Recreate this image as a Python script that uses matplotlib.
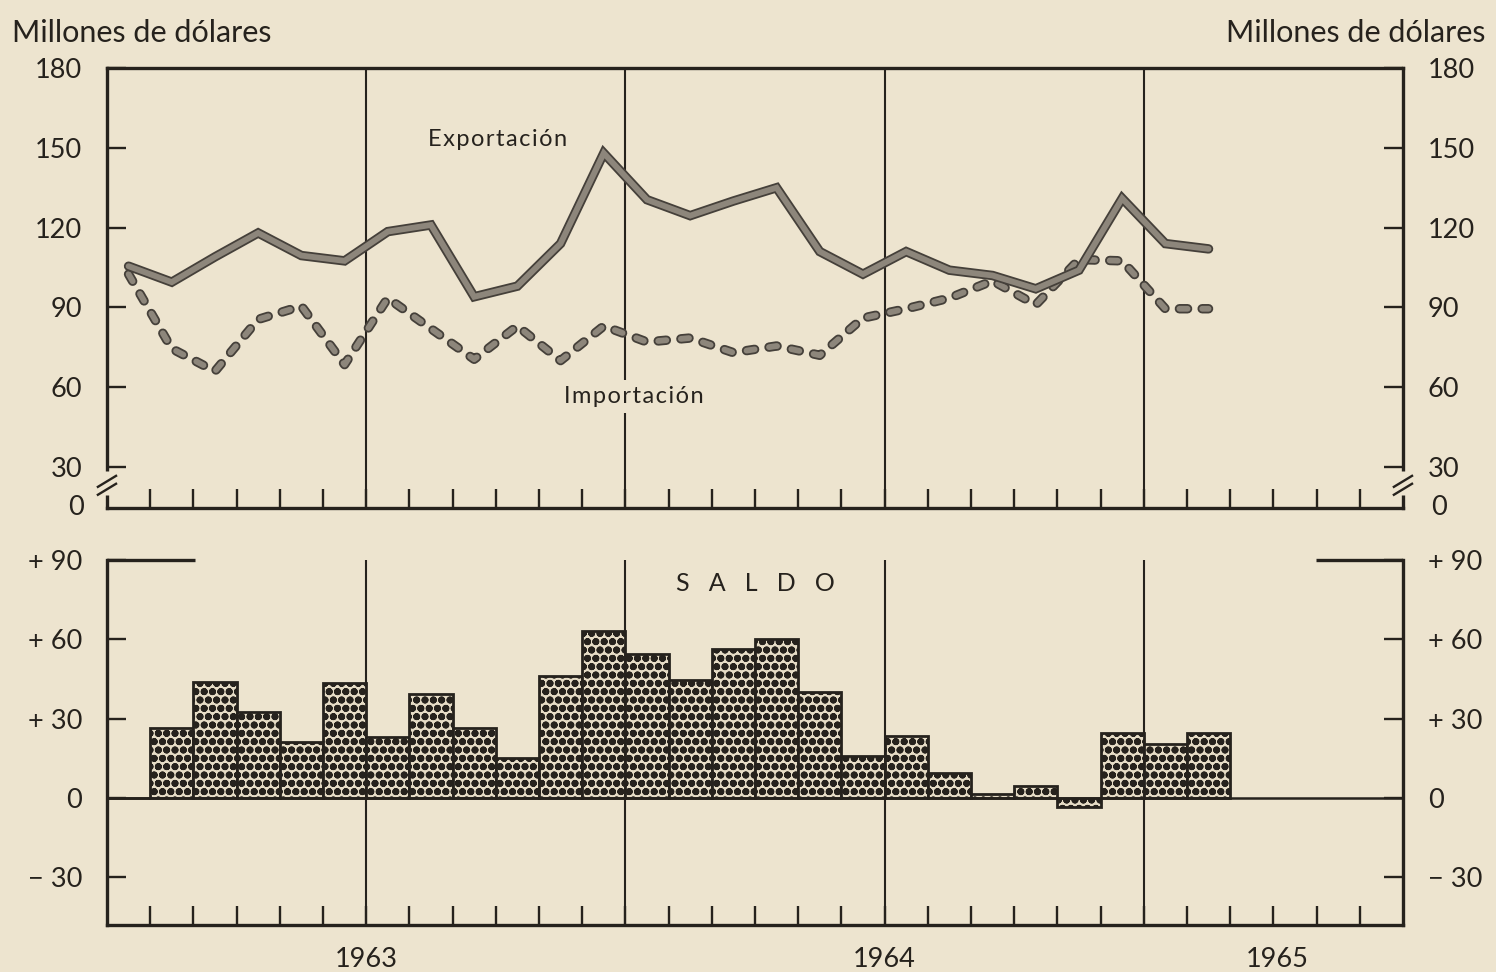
import matplotlib
matplotlib.use("Agg")
import matplotlib.pyplot as plt
import matplotlib.patheffects as pe
import numpy as np

# Monthly trade data, Jan 1963 - Feb 1965 (millones de dólares)
months = ["1963-01", "1963-02", "1963-03", "1963-04", "1963-05", "1963-06",
          "1963-07", "1963-08", "1963-09", "1963-10", "1963-11", "1963-12",
          "1964-01", "1964-02", "1964-03", "1964-04", "1964-05", "1964-06",
          "1964-07", "1964-08", "1964-09", "1964-10", "1964-11", "1964-12",
          "1965-01", "1965-02"]
exportacion = [105.5, 99.5, 109, 118, 109.5, 107.5, 118.5, 121, 94, 98, 114, 148,
               130.5, 124.5, 130, 135, 111, 102.5, 111, 104, 102, 97, 104, 131,
               114, 112]
importacion = [102.5, 74.5, 66, 85.5, 90.5, 68.5, 93.5, 82, 70.5, 83, 70, 83,
               77, 78.5, 73, 75.5, 72, 86, 89.5, 93.5, 100, 91, 108, 107.5,
               89.5, 89.5]
saldo = [0, 26.5, 44, 32.5, 21, 43.5, 23, 39.5, 26.5, 15, 46, 63,
         54.5, 44.5, 56.5, 60, 40, 16, 23.5, 9.5, 1.5, 4.5, -3.5, 24.5,
         20.5, 24.5]

top_ticks = [30, 60, 90, 120, 150]
top_labels = ["30", "60", "90", "120", "150"]
bot_ticks = [-30, 0, 30, 60, 90]
bot_labels = ["\u2212 30", "0", "+ 30", "+ 60", "+ 90"]
years = ["1963", "1964", "1965"]
year_pos = [6, 18, 27.1]

BG = "#ede4cf"
INK = "#26221d"
BAND = "#8d867b"
EDGE = "#45403a"
FONT = "Lato"

plt.rcParams["font.family"] = [FONT, "DejaVu Sans"]
plt.rcParams["hatch.linewidth"] = 2.6

fig = plt.figure(figsize=(14.96, 9.72), dpi=100, facecolor=BG)
ax_t = fig.add_axes([0.0715, 0.4774, 0.8663, 0.4526])
ax_b = fig.add_axes([0.0715, 0.0484, 0.8663, 0.3755])

x = np.arange(len(months)) + 0.5
n_months = 30
half_years = [6, 12, 18, 24]
TICK_FS = 19.5


def style(ax):
    ax.set_facecolor(BG)
    ax.set_xlim(0, n_months)
    ax.set_xticks(np.arange(1, n_months))
    ax.set_xticklabels([])
    ax.tick_params(axis="x", direction="in", length=13.5, width=1.7, color=INK)
    ax.tick_params(axis="y", direction="in", length=14, width=1.7, color=INK,
                   left=True, right=True, labelleft=True, labelright=True,
                   labelsize=TICK_FS, labelcolor=INK, pad=18)
    for s in ax.spines.values():
        s.set_color(INK)
        s.set_linewidth(2.4)


# ---- top panel: exportación / importación ----
style(ax_t)
ax_t.set_ylim(14.6, 180)
ax_t.set_yticks(top_ticks + [180])
ax_t.set_yticklabels(top_labels + ["180"])
ax_t.text(-0.018, 0, "0", transform=ax_t.transAxes, ha="right", va="center",
          fontsize=TICK_FS, color=INK)
ax_t.text(1.022, 0, "0", transform=ax_t.transAxes, ha="left", va="center",
          fontsize=TICK_FS, color=INK)

for hx in half_years:
    ax_t.axvline(hx, color=INK, lw=1.5, zorder=1)

stroke = [pe.Stroke(linewidth=6.8, foreground=EDGE, capstyle="round"), pe.Normal()]
ax_t.plot(x, importacion, color=BAND, lw=4.2, dashes=(1.4, 2.5),
          dash_capstyle="round", path_effects=stroke, zorder=3)
ax_t.plot(x, exportacion, color=BAND, lw=4.2, solid_capstyle="round",
          solid_joinstyle="miter", path_effects=stroke, zorder=4)

ax_t.text(9.05, 153, "E x p o r t a c i ó n".replace(" ", "\u200a"),
          ha="center", va="center", fontsize=17, color=INK, zorder=5)
ax_t.text(12.2, 56.6, "I m p o r t a c i ó n".replace(" ", "\u200a"),
          ha="center", va="center", fontsize=17, color=INK, zorder=5,
          bbox=dict(boxstyle="square,pad=0.25", fc=BG, ec="none"))

# axis break marks at the bottom corners
for xb in (0.0, 1.0):
    ax_t.plot([xb, xb], [0.03, 0.085], transform=ax_t.transAxes,
              color=BG, lw=5, clip_on=False, zorder=6, solid_capstyle="butt")
    for dy in (0.0, 0.018):
        ax_t.plot([xb - 0.007, xb + 0.007], [0.03 + dy, 0.055 + dy],
                  transform=ax_t.transAxes, color=INK, lw=1.7, clip_on=False, zorder=7)

# ---- bottom panel: saldo ----
style(ax_b)
ax_b.set_ylim(-48, 90)
ax_b.set_yticks(bot_ticks)
ax_b.set_yticklabels(bot_labels)
ax_b.spines["top"].set_visible(False)
ax_b.plot([0, 0.068], [1, 1], transform=ax_b.transAxes, color=INK, lw=2.4,
          clip_on=False, solid_capstyle="butt")
ax_b.plot([0.933, 1], [1, 1], transform=ax_b.transAxes, color=INK, lw=2.4,
          clip_on=False, solid_capstyle="butt")

for hx in half_years:
    ax_b.axvline(hx, color=INK, lw=1.5, zorder=1)
ax_b.axhline(0, color=INK, lw=1.8, zorder=4)

ax_b.bar(np.arange(len(months)), saldo, width=1, align="edge", color="#e6dcc6",
         edgecolor=INK, hatch="oo", lw=2.0, zorder=3)

ax_b.text(15, 81, "S   A   L   D   O", ha="center", va="center", fontsize=18, color=INK)

for yr, yp in zip(years, year_pos):
    ax_b.text(yp, -0.095, yr, transform=ax_b.get_xaxis_transform(), ha="center",
              va="center", fontsize=TICK_FS, color=INK)

fig.text(0.008, 0.966, "Millones de dólares", ha="left", va="center",
         fontsize=22, color=INK)
fig.text(0.993, 0.966, "Millones de dólares", ha="right", va="center",
         fontsize=22, color=INK)

fig.savefig("out.png", dpi=100, facecolor=BG)
